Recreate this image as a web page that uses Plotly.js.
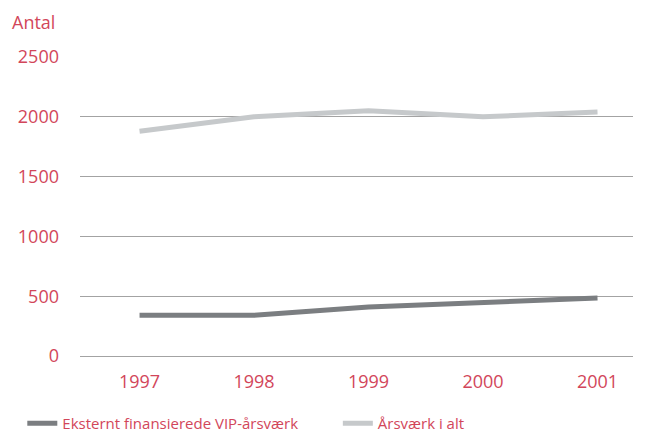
<!DOCTYPE html>
<html>
<head>
<meta charset="utf-8">
<script src="https://cdn.plot.ly/plotly-3.0.1.min.js"></script>
<style>html,body{margin:0;padding:0;background:#fff;}#chart{width:656px;height:434px;}</style>
</head>
<body>
<div id="chart"></div>
<script>
const years = [1997, 1998, 1999, 2000, 2001];
const eksterntVIP = [340, 340, 410, 443, 485];
const aarsvaerkIAlt = [1880, 2000, 2050, 2000, 2040];
const seriesNames = ["Eksternt finansierede VIP-årsværk", "Årsværk i alt"];
const yTicks = [0, 500, 1000, 1500, 2000, 2500];

const red = "#d2465a";
const font = "Open Sans, Noto Sans, sans-serif";

const traces = [
  {x: years, y: eksterntVIP, name: seriesNames[0], type: "scatter", mode: "lines",
   line: {color: "#7b7e81", width: 5}, legend: "legend"},
  {x: years, y: aarsvaerkIAlt, name: seriesNames[1], type: "scatter", mode: "lines",
   line: {color: "#c6c9cb", width: 5}, legend: "legend2"}
];

const legendBase = {orientation: "h", xref: "container", yref: "paper", y: -0.226, yanchor: "middle",
                    font: {family: font, size: 15, color: red}, itemwidth: 30,
                    bgcolor: "rgba(0,0,0,0)", borderwidth: 0};

const layout = {
  width: 656, height: 434,
  margin: {l: 80, r: 23, t: 57, b: 78, autoexpand: false},
  paper_bgcolor: "#fff", plot_bgcolor: "#fff",
  font: {family: font, color: red},
  showlegend: true,
  legend: Object.assign({}, legendBase, {x: 0.034}),
  legend2: Object.assign({}, legendBase, {x: 0.515}),
  xaxis: {range: [1996.48, 2001.31], tickvals: years, ticktext: years.map(String),
          showgrid: false, zeroline: false, showline: false, ticks: "",
          tickfont: {family: font, size: 18, color: red}, ticklabelstandoff: 13, fixedrange: true},
  yaxis: {range: [0, 2500], tickvals: yTicks, showgrid: true, gridcolor: "#a3a3a3", gridwidth: 1,
          zeroline: true, zerolinecolor: "#a3a3a3", zerolinewidth: 1, showline: false, ticks: "",
          tickfont: {family: font, size: 18, color: red}, ticklabelstandoff: 20, fixedrange: true},
  annotations: [{text: "Antal", xref: "paper", yref: "paper", x: -0.126, y: 1.07, xanchor: "left", yanchor: "bottom",
                 showarrow: false, font: {family: font, size: 18, color: red}}]
};

Plotly.newPlot("chart", traces, layout, {displayModeBar: false, staticPlot: true});
</script>
</body>
</html>
